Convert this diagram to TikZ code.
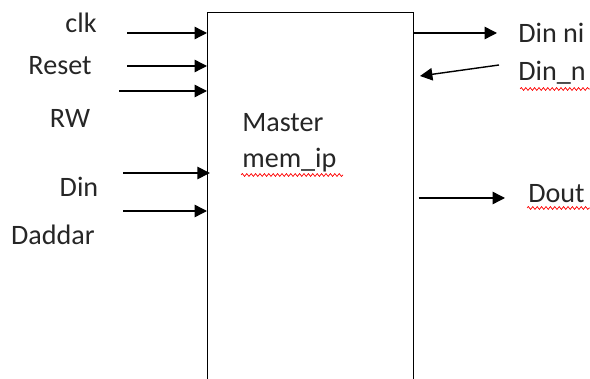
\documentclass[tikz,border=0pt]{standalone}
\usepackage{fontspec}
\setmainfont{Carlito}
\usepackage{tikz}
\usetikzlibrary{arrows.meta,positioning,decorations.pathmorphing}

\begin{document}
\begin{tikzpicture}[x=0.025cm, y=-0.025cm, font=\fontsize{20}{24}\selectfont,
  sig/.style={-{Triangle[length=3.1mm,width=3.1mm]}, line width=1pt},
  lbl/.style={anchor=base, text=black!85, inner sep=0pt},
  rlbl/.style={anchor=base west, text=black!85, inner sep=0pt},
  squig/.style={red, line width=0.5pt, decorate,
    decoration={snake, amplitude=0.35mm, segment length=1.1mm}}]
\useasboundingbox (0,0) rectangle (590,379);
\clip (0,0) rectangle (590,379);
% Block
\node[draw, line width=1pt, anchor=north west, minimum width=5.15cm,
  minimum height=10.2cm, inner sep=0pt] (mem) at (207,12) {};
\node[anchor=base west, text=black!85, inner sep=0pt] (mname) at (242,132) {Master};
\node[anchor=base west, text=black!85, inner sep=0pt] (mip) at (242,168) {mem\_ip};
% Input labels
\node[lbl] (lclk)  at (81,33)  {clk};
\node[lbl] (lrst)  at (60,75)  {Reset};
\node[lbl] (lrw)   at (70,128) {RW};
\node[lbl] (ldin)  at (79,197) {Din};
\node[lbl] (ldadr) at (53,245) {Daddar};
% Input arrow tails
\coordinate (iclk)  at (127,33);
\coordinate (irst)  at (127,66);
\coordinate (irw)   at (119,91);
\coordinate (idin)  at (123,173);
\coordinate (idadr) at (123,211);
\draw[sig] (iclk)  -- (iclk -| mem.west);
\draw[sig] (irst)  -- (irst -| mem.west);
\draw[sig] (irw)   -- (irw -| mem.west);
\draw[sig] (idin)  -- ([xshift=2]idin -| mem.west);
\draw[sig] (idadr) -- (idadr -| mem.west);
% Outputs
\coordinate (onx)  at (497,33);
\coordinate (inx)  at (499,65);
\coordinate (inxe) at (420,76);
\coordinate (odout) at (505,198);
\node[rlbl] (lnx1) at (518,43) {Din ni};
\node[rlbl] (lnx2) at (518,81) {Din\_n};
\node[rlbl] (ldout) at (528,203) {Dout};
\draw[sig] (onx -| mem.east) -- (onx);
\draw[sig] (inx) -- (inxe);
\draw[sig] ([xshift=3]odout -| mem.east) -- (odout);
% Spelling marks
\draw[squig] (241,175) -- (343,175);
\draw[squig] (520,89) -- (590,89);
\draw[squig] (527,208) -- (590,208);
\end{tikzpicture}
\end{document}
